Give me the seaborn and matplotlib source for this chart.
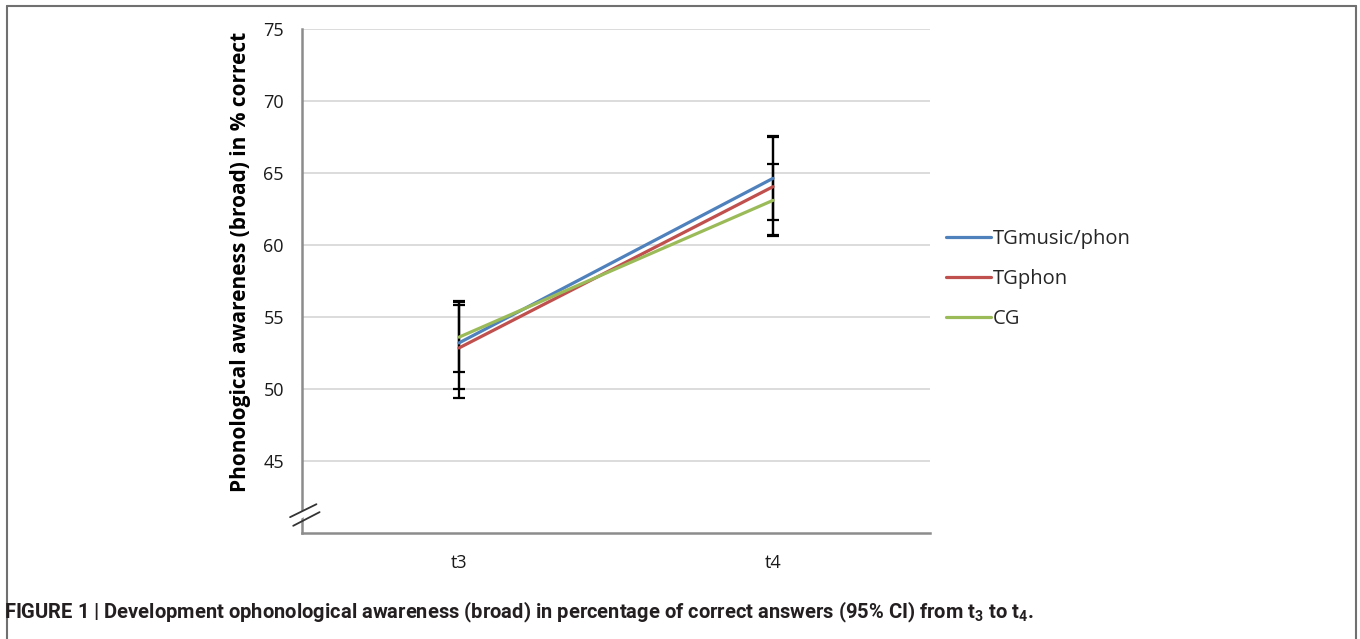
import matplotlib
matplotlib.use("Agg")
import matplotlib.pyplot as plt
import matplotlib.transforms as mtransforms
from matplotlib import font_manager
from matplotlib.patches import Polygon
import seaborn as sns
import pandas as pd
import numpy as np

# data
times = ["t3", "t4"]
groups = ["TGmusic/phon", "TGphon", "CG"]
mean_music = [53.2, 64.63]
mean_phon = [52.85, 64.05]
mean_cg = [53.6, 63.1]
ci_low_music = [50.0, 61.74]
ci_high_music = [55.85, 67.57]
ci_low_phon = [49.4, 60.7]
ci_high_phon = [56.1, 67.5]
ci_low_cg = [51.2, 60.65]
ci_high_cg = [56.05, 65.6]

colors = {"TGmusic/phon": "#4F81BD", "TGphon": "#C0504D", "CG": "#9BBB59"}

rows = []
for g, m, lo, hi in [("TGmusic/phon", mean_music, ci_low_music, ci_high_music),
                     ("TGphon", mean_phon, ci_low_phon, ci_high_phon),
                     ("CG", mean_cg, ci_low_cg, ci_high_cg)]:
    for t, mv, lv, hv in zip(times, m, lo, hi):
        rows.append({"time": t, "group": g, "score": mv, "low": lv, "high": hv})
df = pd.DataFrame(rows)

installed = {f.name for f in font_manager.fontManager.ttflist}
cap_font = "Liberation Sans Narrow" if "Liberation Sans Narrow" in installed else "Roboto"

sns.set_theme(style="white")
plt.rcParams["font.family"] = ["Open Sans", "DejaVu Sans"]
plt.rcParams["mathtext.fontset"] = "custom"
plt.rcParams["mathtext.bf"] = cap_font + ":bold"
plt.rcParams["mathtext.rm"] = cap_font + ":bold"

fig = plt.figure(figsize=(13.6, 6.39), dpi=100)
ax = fig.add_axes([302 / 1360, 106 / 639, 628 / 1360, 504 / 639])

# error bars first so lines sit on top
for g in groups:
    sub = df[df["group"] == g]
    x = np.arange(len(sub))
    yerr = np.vstack([sub["score"] - sub["low"], sub["high"] - sub["score"]])
    ax.errorbar(x, sub["score"], yerr=yerr, fmt="none", ecolor="black",
                elinewidth=1.6, capsize=4.5, capthick=1.6, zorder=3)

sns.lineplot(data=df, x="time", y="score", hue="group", hue_order=groups,
             palette=colors, linewidth=2.3, ax=ax, zorder=4, sort=False)

ax.set_xlim(-0.5, 1.5)
ax.set_ylim(40, 75)
ax.set_yticks([45, 50, 55, 60, 65, 70, 75])
ax.yaxis.grid(True, color="#D9D9D9", linewidth=1.3)
ax.xaxis.grid(False)
for s in ["top", "right"]:
    ax.spines[s].set_visible(False)
for s in ["left", "bottom"]:
    ax.spines[s].set_color("#8C8C8C")
    ax.spines[s].set_linewidth(1.8)
ax.tick_params(axis="both", length=0, labelsize=13, labelcolor="#1A1A1A")
ax.tick_params(axis="y", pad=13)
ax.tick_params(axis="x", pad=15)
ax.set_xlabel("")
ax.set_ylabel("Phonological awareness (broad) in % correct", fontsize=15,
              fontweight="bold", color="black")
ax.yaxis.set_label_coords(-0.082, 0.538)

# axis break marks on the y axis
trans = mtransforms.blended_transform_factory(ax.transAxes, ax.transData)
bx = np.array([-0.019, 0.023])
brk = Polygon([[bx[0], 41.1], [bx[1], 42.0], [bx[1], 41.55], [bx[0], 40.6]],
              closed=True, transform=trans, facecolor="white", edgecolor="none",
              clip_on=False, zorder=5)
ax.add_patch(brk)
ax.plot(bx, [41.1, 42.0], color="#333333", lw=1.3, transform=trans, clip_on=False, zorder=6)
ax.plot(bx + 0.005, [40.5, 41.45], color="#333333", lw=1.3, transform=trans, clip_on=False, zorder=6)

leg = ax.legend(loc="upper left", bbox_to_anchor=(1.012, 0.62), frameon=False,
                fontsize=14.5, handlelength=2.25, handletextpad=0.1, labelspacing=1.0,
                borderaxespad=0)
for line in leg.get_lines():
    line.set_linewidth(2.3)

# outer border (open at the bottom)
border_kw = dict(color="#707070", linewidth=1.5, transform=fig.transFigure)
fig.add_artist(plt.Line2D([7 / 1360, 7 / 1360], [0, 1 - 6 / 639], **border_kw))
fig.add_artist(plt.Line2D([7 / 1360, 1356 / 1360], [1 - 6 / 639, 1 - 6 / 639], **border_kw))
fig.add_artist(plt.Line2D([1356 / 1360, 1356 / 1360], [0, 1 - 6 / 639], **border_kw))

cap = fig.text(4 / 1360, 1 - 612 / 639,
               r"FIGURE 1 | Development ophonological awareness (broad) in percentage of correct answers (95% CI) from t$_{\mathbf{3}}$ to t$_{\mathbf{4}}$.",
               family=[cap_font, "DejaVu Sans"], fontweight="bold", fontsize=14.5,
               color="#231F20", va="center", ha="left")

# stretch caption to the reference width
fig.canvas.draw()
w = cap.get_window_extent().width
cap.set_fontsize(14.5 * 1033 / w)

fig.savefig("out.png", dpi=100)
